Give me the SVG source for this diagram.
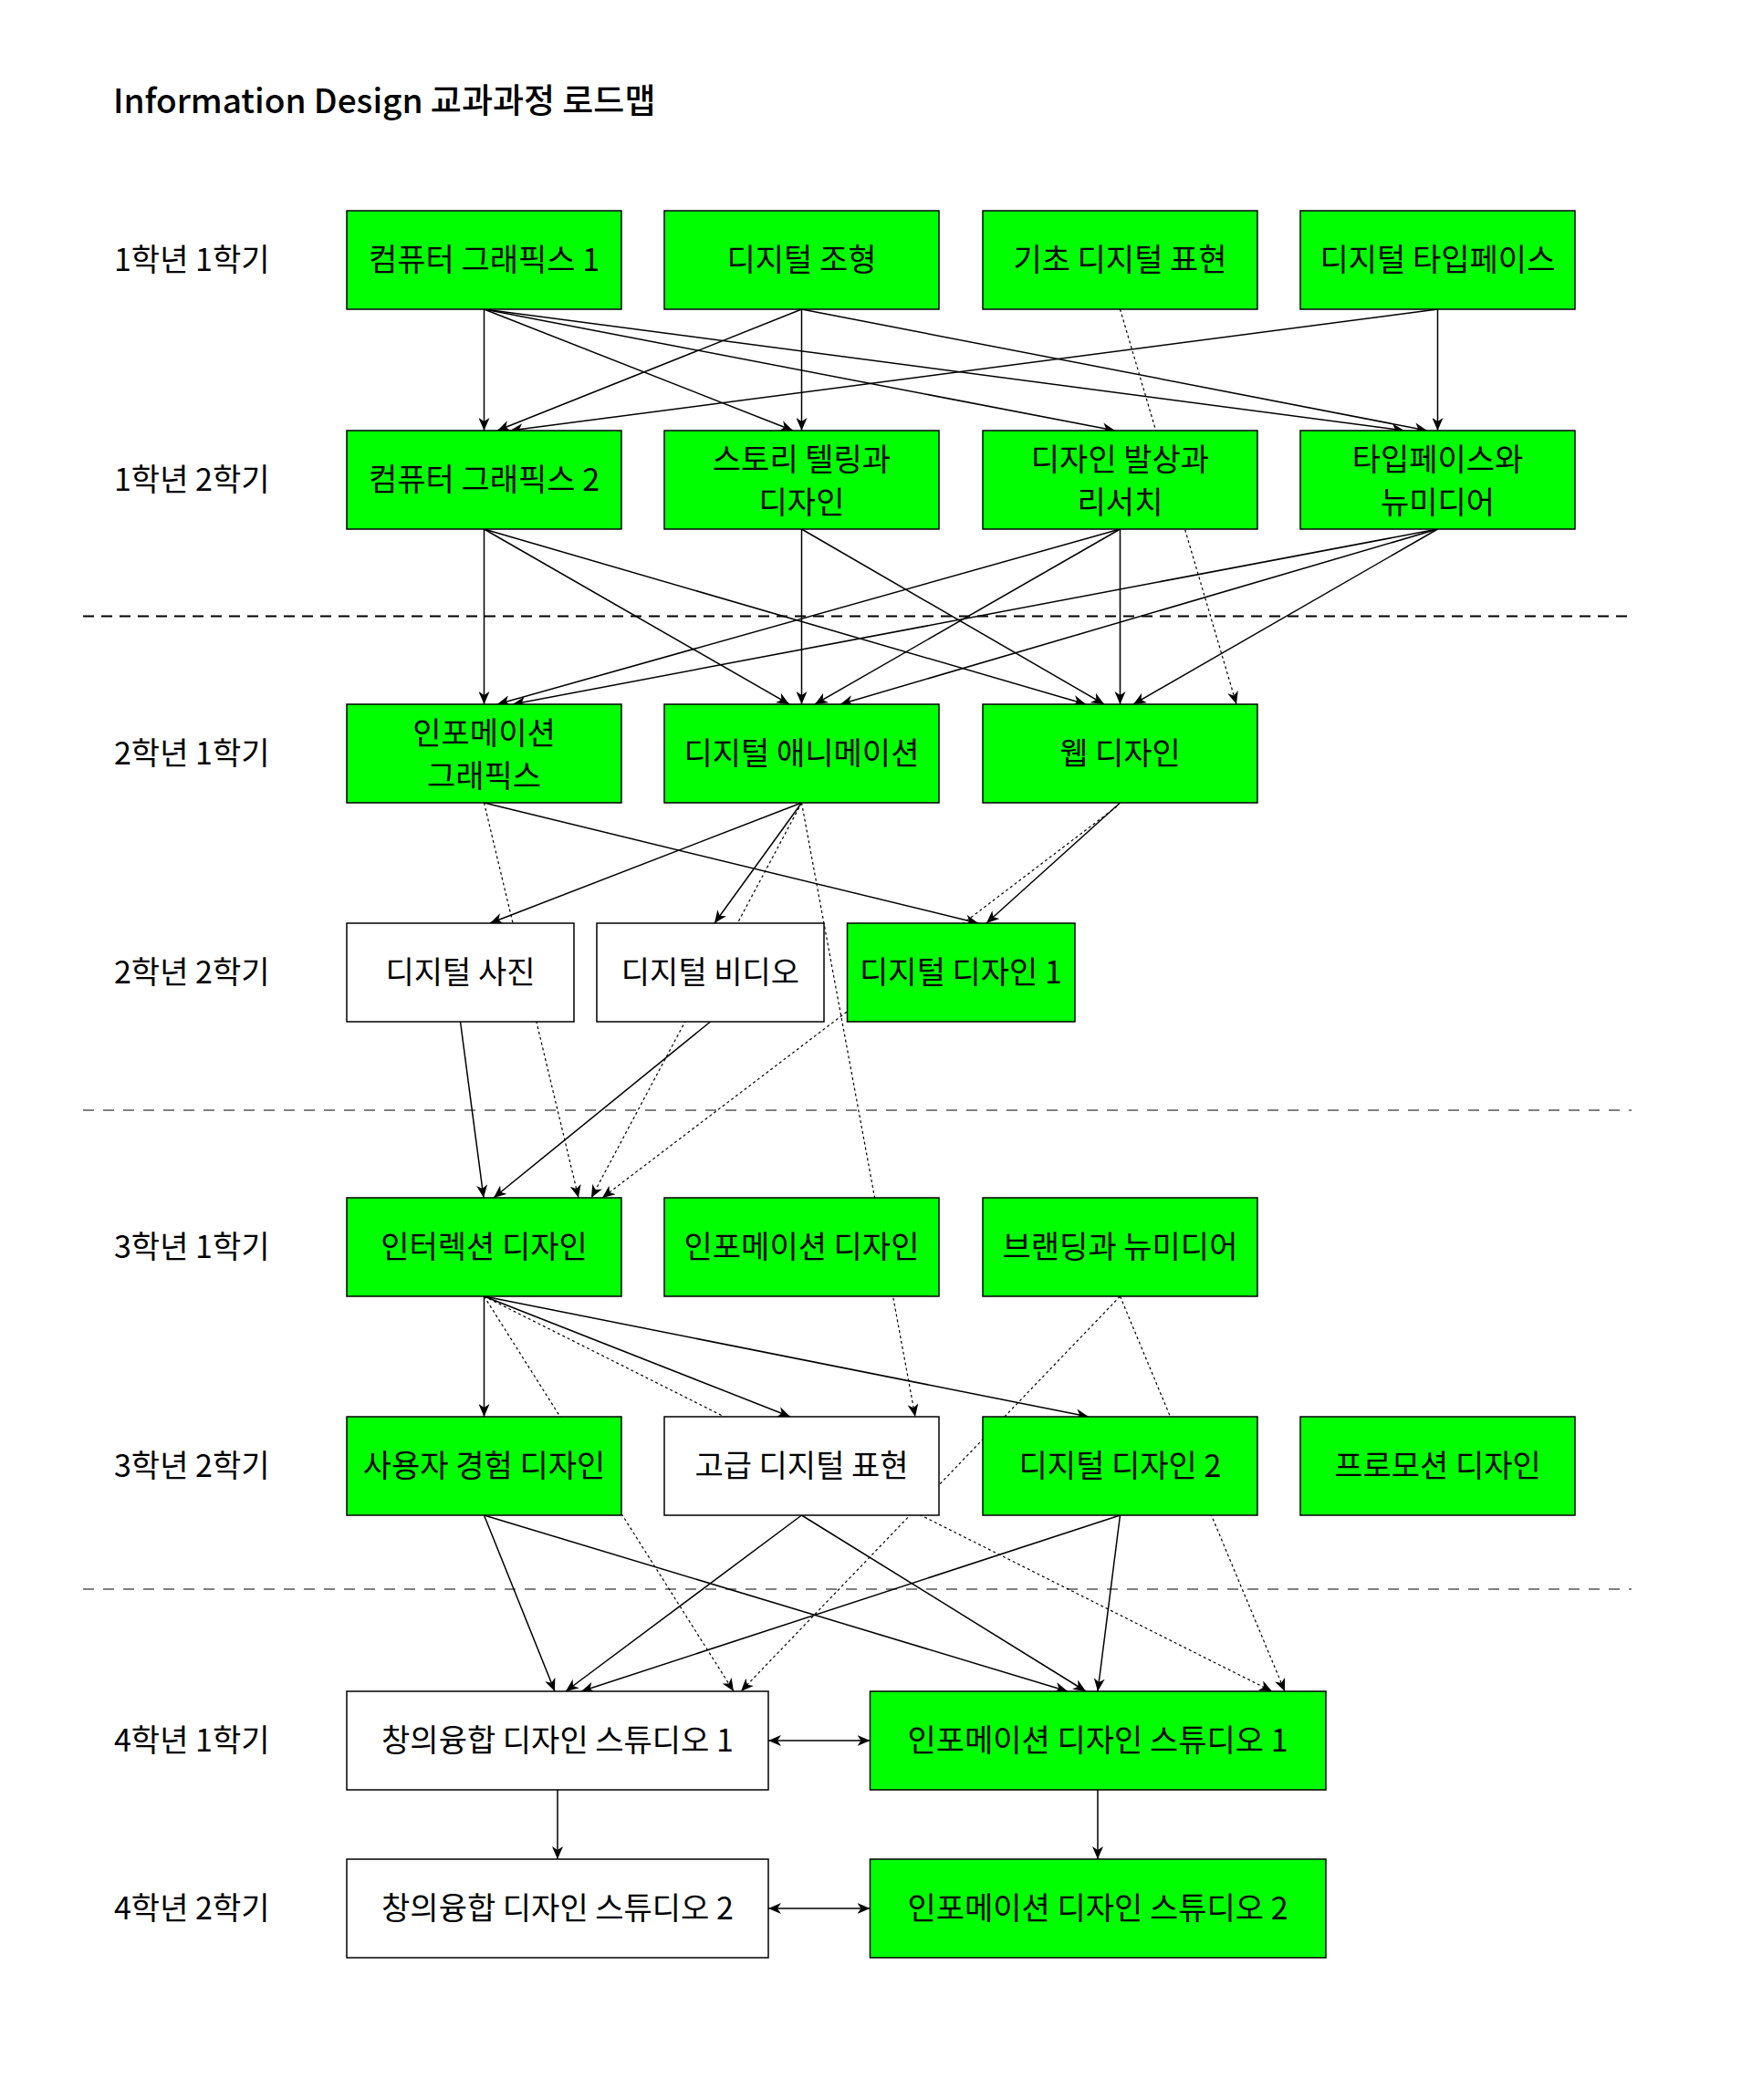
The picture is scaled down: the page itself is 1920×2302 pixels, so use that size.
<svg xmlns="http://www.w3.org/2000/svg" width="1920" height="2302" viewBox="0 0 1920 2302">
<defs>
<marker id="arr" viewBox="0 0 14 12" refX="14" refY="6" markerWidth="14" markerHeight="12" markerUnits="userSpaceOnUse" orient="auto-start-reverse">
<path d="M0,0 L14,6 L0,12 L4,6 Z" fill="#000" stroke="none"/>
</marker>
<style>
.bg{fill:#fff}
.g{fill:#00ff00;stroke:#000;stroke-width:1.5}
.w{fill:#fff;stroke:#000;stroke-width:1.5}
.t{font-family:"Noto Sans CJK KR","Noto Sans",sans-serif;font-size:34px;fill:#000;text-anchor:middle;dominant-baseline:central}
.lbl{font-family:"Noto Sans CJK KR","Noto Sans",sans-serif;font-size:34px;fill:#000;dominant-baseline:central}
.title{font-family:"Noto Sans CJK KR","Noto Sans",sans-serif;font-size:37px;font-weight:500;fill:#000}
.e{fill:none;stroke:#000;stroke-width:1.5;marker-end:url(#arr)}
.d{fill:none;stroke:#000;stroke-width:1.2;stroke-dasharray:3 3;marker-end:url(#arr)}
.b{fill:none;stroke:#000;stroke-width:1.5;marker-end:url(#arr);marker-start:url(#arr)}
.sep1{stroke:#000;stroke-width:2;stroke-dasharray:12 8}
.sep2{stroke:#000;stroke-width:1;stroke-dasharray:12 10}
</style>
</defs>
<rect class="bg" x="0" y="0" width="1920" height="2302"/>
<text class="title" x="124" y="124">Information Design 교과과정 로드맵</text>
<g id="labels">
<text class="lbl" x="125" y="282">1학년 1학기</text>
<text class="lbl" x="125" y="523">1학년 2학기</text>
<text class="lbl" x="125" y="823">2학년 1학기</text>
<text class="lbl" x="125" y="1063">2학년 2학기</text>
<text class="lbl" x="125" y="1364">3학년 1학기</text>
<text class="lbl" x="125" y="1604">3학년 2학기</text>
<text class="lbl" x="125" y="1905">4학년 1학기</text>
<text class="lbl" x="125" y="2089">4학년 2학기</text>
</g>
<g id="separators">
<line class="sep1" x1="91" y1="675.5" x2="1788" y2="675.5"/>
<line class="sep2" x1="91" y1="1217" x2="1788" y2="1217"/>
<line class="sep2" x1="91" y1="1742" x2="1788" y2="1742"/>
</g>
<g id="connectors">
<line class="e" x1="530.5" y1="339" x2="530.5" y2="472"/>
<line class="e" x1="530.5" y1="339" x2="869" y2="472"/>
<line class="e" x1="530.5" y1="339" x2="1222" y2="472"/>
<line class="e" x1="530.5" y1="339" x2="1539" y2="472"/>
<line class="e" x1="878.5" y1="339" x2="545" y2="472"/>
<line class="e" x1="878.5" y1="339" x2="878.5" y2="472"/>
<line class="e" x1="878.5" y1="339" x2="1564" y2="472"/>
<line class="e" x1="1575.5" y1="339" x2="559" y2="472"/>
<line class="e" x1="1575.5" y1="339" x2="1575.5" y2="472"/>
<line class="d" x1="1227.5" y1="339" x2="1355" y2="772"/>
<line class="e" x1="530.5" y1="580" x2="530.5" y2="772"/>
<line class="e" x1="530.5" y1="580" x2="865" y2="772"/>
<line class="e" x1="530.5" y1="580" x2="1190" y2="772"/>
<line class="e" x1="878.5" y1="580" x2="878.5" y2="772"/>
<line class="e" x1="878.5" y1="580" x2="1210" y2="772"/>
<line class="e" x1="1227.5" y1="580" x2="545" y2="772"/>
<line class="e" x1="1227.5" y1="580" x2="893" y2="772"/>
<line class="e" x1="1227.5" y1="580" x2="1227.5" y2="772"/>
<line class="e" x1="1575.5" y1="580" x2="562" y2="772"/>
<line class="e" x1="1575.5" y1="580" x2="921" y2="772"/>
<line class="e" x1="1575.5" y1="580" x2="1242" y2="772"/>
<line class="e" x1="530.5" y1="880" x2="1072" y2="1012"/>
<line class="e" x1="878.5" y1="880" x2="537" y2="1012"/>
<line class="e" x1="878.5" y1="880" x2="783" y2="1012"/>
<line class="e" x1="1227.5" y1="880" x2="1081" y2="1012"/>
<line class="d" x1="530.5" y1="880" x2="634" y2="1313"/>
<line class="d" x1="878.5" y1="880" x2="648" y2="1313"/>
<line class="d" x1="1224" y1="884" x2="660" y2="1313"/>
<line class="d" x1="878.5" y1="880" x2="1003" y2="1553"/>
<line class="e" x1="504.5" y1="1120" x2="530" y2="1313"/>
<line class="e" x1="778.5" y1="1120" x2="541" y2="1313"/>
<line class="e" x1="530.5" y1="1421" x2="530.5" y2="1553"/>
<line class="e" x1="530.5" y1="1421" x2="866" y2="1553"/>
<line class="e" x1="530.5" y1="1421" x2="1193" y2="1553"/>
<line class="d" x1="530.5" y1="1421" x2="804" y2="1854"/>
<line class="d" x1="530.5" y1="1421" x2="1394" y2="1854"/>
<line class="d" x1="1227.5" y1="1421" x2="812" y2="1854"/>
<line class="d" x1="1227.5" y1="1421" x2="1408" y2="1854"/>
<line class="e" x1="530.5" y1="1661" x2="608" y2="1854"/>
<line class="e" x1="530.5" y1="1661" x2="1170" y2="1854"/>
<line class="e" x1="878.5" y1="1661" x2="620" y2="1854"/>
<line class="e" x1="878.5" y1="1661" x2="1190" y2="1854"/>
<line class="e" x1="1227.5" y1="1661" x2="637" y2="1854"/>
<line class="e" x1="1227.5" y1="1661" x2="1203" y2="1854"/>
<line class="e" x1="611" y1="1962" x2="611" y2="2038"/>
<line class="e" x1="1203" y1="1962" x2="1203" y2="2038"/>
<line class="b" x1="842" y1="1908" x2="953.5" y2="1908"/>
<line class="b" x1="842" y1="2092" x2="953.5" y2="2092"/>
</g>
<g id="n1"><rect class="g" x="380" y="231" width="301" height="108"/><text class="t" x="530.5" y="282">컴퓨터 그래픽스 1</text></g>
<g id="n2"><rect class="g" x="728" y="231" width="301" height="108"/><text class="t" x="878.5" y="282">디지털 조형</text></g>
<g id="n3"><rect class="g" x="1077" y="231" width="301" height="108"/><text class="t" x="1227.5" y="282">기초 디지털 표현</text></g>
<g id="n4"><rect class="g" x="1425" y="231" width="301" height="108"/><text class="t" x="1575.5" y="282">디지털 타입페이스</text></g>
<g id="n5"><rect class="g" x="380" y="472" width="301" height="108"/><text class="t" x="530.5" y="523">컴퓨터 그래픽스 2</text></g>
<g id="n6"><rect class="g" x="728" y="472" width="301" height="108"/><text class="t" x="878.5" y="501">스토리 텔링과</text><text class="t" x="878.5" y="548">디자인</text></g>
<g id="n7"><rect class="g" x="1077" y="472" width="301" height="108"/><text class="t" x="1227.5" y="501">디자인 발상과</text><text class="t" x="1227.5" y="548">리서치</text></g>
<g id="n8"><rect class="g" x="1425" y="472" width="301" height="108"/><text class="t" x="1575.5" y="501">타입페이스와</text><text class="t" x="1575.5" y="548">뉴미디어</text></g>
<g id="n9"><rect class="g" x="380" y="772" width="301" height="108"/><text class="t" x="530.5" y="801">인포메이션</text><text class="t" x="530.5" y="848">그래픽스</text></g>
<g id="n10"><rect class="g" x="728" y="772" width="301" height="108"/><text class="t" x="878.5" y="823">디지털 애니메이션</text></g>
<g id="n11"><rect class="g" x="1077" y="772" width="301" height="108"/><text class="t" x="1227.5" y="823">웹 디자인</text></g>
<g id="n12"><rect class="w" x="380" y="1012" width="249" height="108"/><text class="t" x="504.5" y="1063">디지털 사진</text></g>
<g id="n13"><rect class="w" x="654" y="1012" width="249" height="108"/><text class="t" x="778.5" y="1063">디지털 비디오</text></g>
<g id="n14"><rect class="g" x="928.5" y="1012" width="249.5" height="108"/><text class="t" x="1053" y="1063">디지털 디자인 1</text></g>
<g id="n15"><rect class="g" x="380" y="1313" width="301" height="108"/><text class="t" x="530.5" y="1364">인터렉션 디자인</text></g>
<g id="n16"><rect class="g" x="728" y="1313" width="301" height="108"/><text class="t" x="878.5" y="1364">인포메이션 디자인</text></g>
<g id="n17"><rect class="g" x="1077" y="1313" width="301" height="108"/><text class="t" x="1227.5" y="1364">브랜딩과 뉴미디어</text></g>
<g id="n18"><rect class="g" x="380" y="1553" width="301" height="108"/><text class="t" x="530.5" y="1604">사용자 경험 디자인</text></g>
<g id="n19"><rect class="w" x="728" y="1553" width="301" height="108"/><text class="t" x="878.5" y="1604">고급 디지털 표현</text></g>
<g id="n20"><rect class="g" x="1077" y="1553" width="301" height="108"/><text class="t" x="1227.5" y="1604">디지털 디자인 2</text></g>
<g id="n21"><rect class="g" x="1425" y="1553" width="301" height="108"/><text class="t" x="1575.5" y="1604">프로모션 디자인</text></g>
<g id="n22"><rect class="w" x="380" y="1854" width="462" height="108"/><text class="t" x="611" y="1905">창의융합 디자인 스튜디오 1</text></g>
<g id="n23"><rect class="g" x="953.5" y="1854" width="499.5" height="108"/><text class="t" x="1203" y="1905">인포메이션 디자인 스튜디오 1</text></g>
<g id="n24"><rect class="w" x="380" y="2038" width="462" height="108"/><text class="t" x="611" y="2089">창의융합 디자인 스튜디오 2</text></g>
<g id="n25"><rect class="g" x="953.5" y="2038" width="499.5" height="108"/><text class="t" x="1203" y="2089">인포메이션 디자인 스튜디오 2</text></g>
</svg>
